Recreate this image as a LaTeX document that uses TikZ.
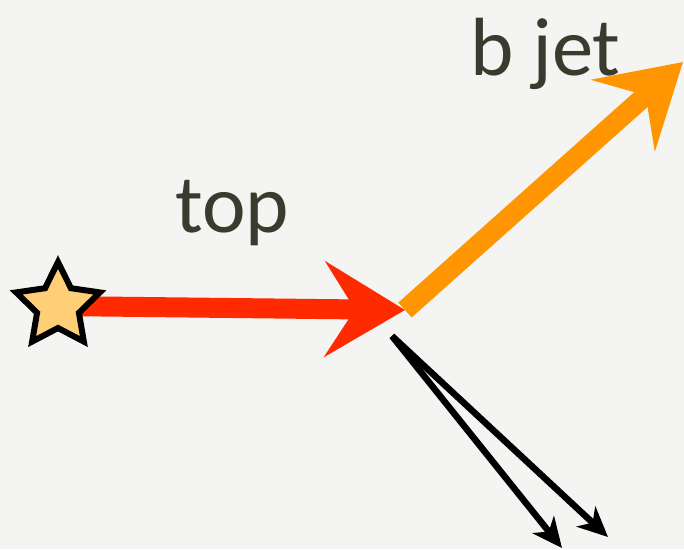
\documentclass[tikz,border=0pt]{standalone}
\usepackage{fontspec}
\setmainfont{Carlito}
\usetikzlibrary{shapes.geometric, arrows.meta, positioning}
\definecolor{paper}{HTML}{F4F4F2}
\definecolor{topred}{HTML}{FF2A00}
\definecolor{jetorange}{HTML}{FF9500}
\definecolor{starfill}{HTML}{FFCF78}
\definecolor{ink}{HTML}{3A3A2E}
\tikzset{
    label/.style={text=ink, font=\fontsize{47}{54}\selectfont, inner sep=0pt},
    fatarrow/.style={line width=0.4cm, -{Stealth[length=1.6cm, width=1.9cm, inset=0.6cm]}},
    thinarrow/.style={line width=0.13cm, black, -{Stealth[length=0.6cm, width=0.55cm, inset=0.18cm]}},
    startstar/.style={star, star points=5, star point ratio=2.0, minimum size=1.76cm, inner sep=0pt, draw=black, line width=0.12cm, fill=starfill}
}

\begin{document}
\begin{tikzpicture}[x=0.02cm, y=-0.02cm]
        \fill [paper] (0,0) rectangle (684,549);
        \useasboundingbox (0,0) rectangle (684,549);
        \coordinate (sc) at (58,306);
        \coordinate (vtx) at (405,310);
        \coordinate (bend) at (683,62);
        \coordinate (wdec) at (392,336);
        \coordinate (q1) at (562,548);
        \coordinate (q2) at (608,537);
        \draw [fatarrow, topred] (sc) -- (vtx);
        \draw [fatarrow, jetorange] (vtx) -- (bend);
        \draw [thinarrow] (wdec) -- (q1);
        \draw [thinarrow] (wdec) -- (q2);
        \node [startstar] (st) at (sc) {};
        \node [label, anchor=base] (toplbl) at (232,232) {top};
        \node [label, anchor=base west] (jetlbl) at (470,75) {b jet};
    \end{tikzpicture}
\end{document}
